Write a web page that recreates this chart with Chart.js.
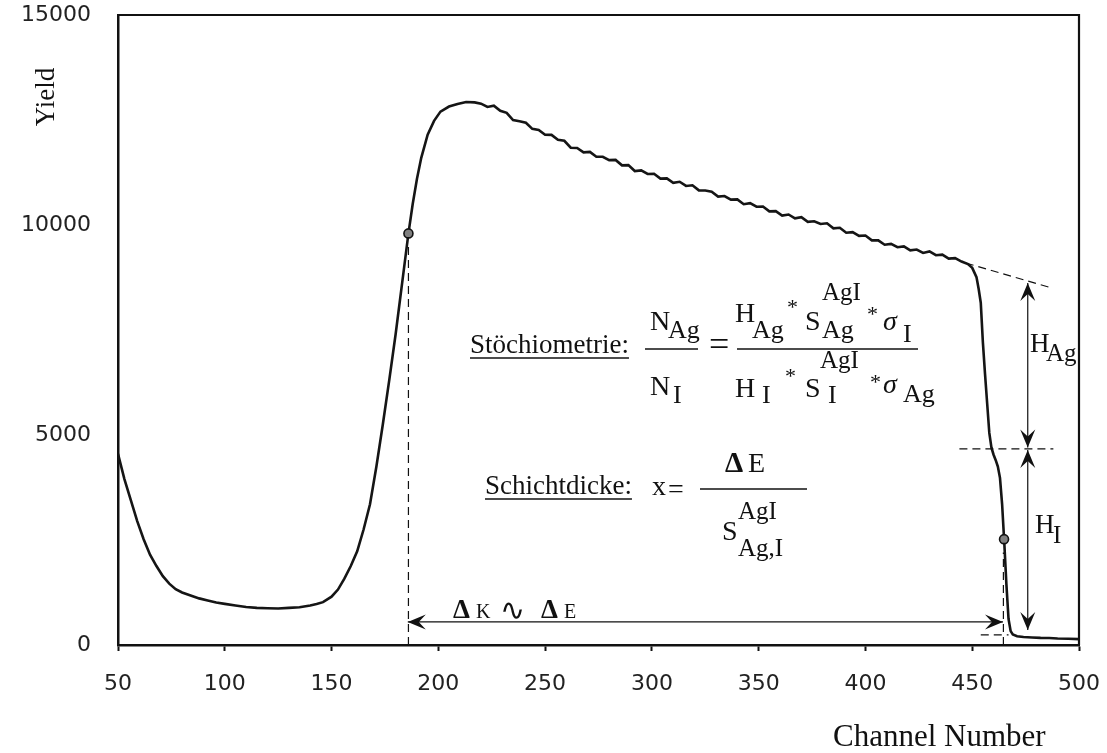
<!DOCTYPE html>
<html>
<head>
<meta charset="utf-8">
<script src="https://cdn.jsdelivr.net/npm/chart.js@4.4.0/dist/chart.umd.min.js"></script>
<style>
html,body{margin:0;padding:0;background:#fff;}
#c{display:block;}
</style>
</head>
<body>
<canvas id="c" width="1107" height="753" style="width:1107px;height:753px;"></canvas>
<script>
// ---- data ----
const channels = [
  50,53,56,59,62,65,68,71,74,77,80,84,88,92,96,100,105,110,115,120,125,130,135,140,143,146,150,153,156,159,162,165,168,171,174,177,180,183,186,188,190,192,195,198,201,205,209,213,217,
  220,223,226,229,232,235,238,241,244,247,250,253,256,259,262,265,268,271,274,277,280,283,286,289,292,295,298,
  301,304,307,310,313,316,319,322,325,328,331,334,337,340,343,346,349,352,355,358,361,364,367,370,373,376,379,
  382,385,388,391,394,397,400,403,406,409,412,415,418,421,424,427,430,433,436,439,442,445,448,
  450,452,453,454,455,456,457,458,459,460,461,462,463,464,465,466,467,468,469,471,474,478,482,486,490,495,500
];
const yieldValues = [
  4550,3950,3450,2950,2520,2150,1880,1640,1460,1330,1250,1180,1110,1060,1010,980,940,905,885,875,870,885,900,940,975,1020,1150,1320,1580,1880,2230,2750,3350,4250,5250,6300,7400,8600,9800,10500,11100,11600,12150,12480,12700,12820,12880,12930,12920,
  12890,12810,12840,12720,12670,12500,12470,12435,12290,12265,12150,12145,12030,12005,11840,11835,11730,11740,11625,11625,11545,11550,11420,11425,11285,11300,11215,
  11220,11105,11110,11005,11030,10930,10945,10825,10820,10790,10675,10690,10605,10610,10495,10520,10435,10440,10325,10330,10225,10250,10160,10185,10075,10090,10025,
  10040,9920,9935,9815,9830,9740,9750,9635,9635,9530,9550,9470,9490,9395,9415,9335,9370,9280,9295,9200,9210,9130,9070,
  8980,8760,8480,8150,7200,6450,5750,5050,4700,4530,4400,4250,3980,3350,2450,1450,620,330,250,210,190,180,170,165,155,150,140
];
const markerChannels = [186, 464.9];
const markerYields = [9800, 2520];
const xTickValues = [50,100,150,200,250,300,350,400,450,500];
const yTickValues = [0,5000,10000,15000];
// annotation geometry in data units [x1, y1, x2, y2]
const dashedSegments = [
  [186, 0, 186, 9480],
  [464.6, 0, 464.6, 2200],
  [447, 9095, 487.3, 8500],
  [444, 4670, 488, 4670],
  [454, 240, 467, 240]
];
const doubleArrows = [
  [185.7, 550, 464.4, 550],
  [476, 8620, 476, 4700],
  [476, 4640, 476, 360]
];

const SERIF = '"Liberation Serif","Times New Roman",serif';

function txt(ctx, s, x, y, size, style, fam) {
  ctx.font = (style || '') + ' ' + size + 'px ' + (fam || SERIF);
  ctx.fillText(s, x, y);
  return ctx.measureText(s).width;
}
function head(ctx, x, y, ang) {
  const L = 18, W = 7.5, N = 11;
  ctx.save();
  ctx.translate(x, y);
  ctx.rotate(ang);
  ctx.beginPath();
  ctx.moveTo(0, 0);
  ctx.lineTo(-L, -W);
  ctx.lineTo(-N, 0);
  ctx.lineTo(-L, W);
  ctx.closePath();
  ctx.fill();
  ctx.restore();
}
function hline(ctx, x1, x2, y, w) {
  ctx.lineWidth = w || 1.3;
  ctx.beginPath(); ctx.moveTo(x1, y); ctx.lineTo(x2, y); ctx.stroke();
}

const annot = {
  id: 'annot',
  afterDatasetsDraw(chart) {
    const ctx = chart.ctx, xs = chart.scales.x, ys = chart.scales.y, a = chart.chartArea;
    ctx.save();
    ctx.strokeStyle = '#111';
    ctx.fillStyle = '#111';
    // frame top/right
    ctx.lineWidth = 2.2;
    ctx.beginPath();
    ctx.moveTo(a.left, a.top); ctx.lineTo(a.right, a.top); ctx.lineTo(a.right, a.bottom);
    ctx.stroke();
    // dashed guides
    ctx.lineWidth = 1.2;
    ctx.setLineDash([8, 5]);
    dashedSegments.forEach(s => {
      ctx.beginPath();
      ctx.moveTo(xs.getPixelForValue(s[0]), ys.getPixelForValue(s[1]));
      ctx.lineTo(xs.getPixelForValue(s[2]), ys.getPixelForValue(s[3]));
      ctx.stroke();
    });
    ctx.setLineDash([]);
    // double arrows
    ctx.lineWidth = 1.2;
    doubleArrows.forEach(s => {
      const x1 = xs.getPixelForValue(s[0]), y1 = ys.getPixelForValue(s[1]);
      const x2 = xs.getPixelForValue(s[2]), y2 = ys.getPixelForValue(s[3]);
      ctx.beginPath(); ctx.moveTo(x1, y1); ctx.lineTo(x2, y2); ctx.stroke();
      const ang = Math.atan2(y2 - y1, x2 - x1);
      head(ctx, x2, y2, ang);
      head(ctx, x1, y1, ang + Math.PI);
    });
    // texts
    ctx.textBaseline = 'alphabetic';
    ctx.textAlign = 'left';
    // Stöchiometrie
    let w = txt(ctx, 'Stöchiometrie:', 470, 353, 27);
    hline(ctx, 470, 470 + w, 358, 1.4);
    txt(ctx, 'N', 650, 330, 28);
    txt(ctx, 'Ag', 668, 338, 26);
    hline(ctx, 645, 698, 349);
    txt(ctx, 'N', 650, 395, 28);
    txt(ctx, 'I', 673, 403, 26);
    txt(ctx, '=', 709, 356, 36);
    hline(ctx, 737, 918, 349);
    // numerator
    txt(ctx, 'H', 735, 322, 28);
    txt(ctx, 'Ag', 752, 338, 26);
    txt(ctx, '*', 787, 314, 22);
    txt(ctx, 'S', 805, 330, 28);
    txt(ctx, 'AgI', 822, 300, 25);
    txt(ctx, 'Ag', 822, 338, 26);
    txt(ctx, '*', 867, 321, 22);
    txt(ctx, 'σ', 883, 330, 28, 'italic');
    txt(ctx, 'I', 903, 342, 26);
    // denominator
    txt(ctx, 'H', 735, 397, 28);
    txt(ctx, 'I', 762, 403, 26);
    txt(ctx, '*', 785, 383, 22);
    txt(ctx, 'S', 805, 397, 28);
    txt(ctx, 'AgI', 820, 368, 25);
    txt(ctx, 'I', 828, 403, 26);
    txt(ctx, '*', 870, 389, 22);
    txt(ctx, 'σ', 883, 393, 28, 'italic');
    txt(ctx, 'Ag', 903, 402, 26);
    // Schichtdicke
    w = txt(ctx, 'Schichtdicke:', 485, 494, 27);
    hline(ctx, 485, 485 + w, 499, 1.4);
    txt(ctx, 'x', 652, 495, 28);
    txt(ctx, '=', 668, 498, 28);
    hline(ctx, 700, 807, 489);
    txt(ctx, 'Δ', 725, 472, 29, 'bold');
    txt(ctx, 'E', 748, 472, 28);
    txt(ctx, 'S', 722, 540, 28);
    txt(ctx, 'AgI', 738, 519, 25);
    txt(ctx, 'Ag,I', 738, 556, 25);
    // Delta K ~ Delta E
    txt(ctx, 'Δ', 453, 618, 27, 'bold');
    txt(ctx, 'K', 476, 618, 20);
    txt(ctx, '∿', 500, 620, 30, '', '"DejaVu Serif","DejaVu Sans",serif');
    txt(ctx, 'Δ', 541, 618, 27, 'bold');
    txt(ctx, 'E', 564, 618, 20);
    // H labels
    txt(ctx, 'H', 1030, 352, 27);
    txt(ctx, 'Ag', 1046, 361, 25);
    txt(ctx, 'H', 1035, 533, 27);
    txt(ctx, 'I', 1053, 543, 25);
    // axis titles
    txt(ctx, 'Channel Number', 833, 746, 31);
    ctx.save();
    ctx.translate(47, 97);
    ctx.rotate(-Math.PI / 2);
    ctx.textAlign = 'center';
    ctx.textBaseline = 'middle';
    txt(ctx, 'Yield', 0, 0, 27);
    ctx.restore();
    ctx.restore();
  }
};

const tickFont = {family: '"DejaVu Sans", sans-serif', size: 22};
new Chart(document.getElementById('c').getContext('2d'), {
  type: 'line',
  data: {
    datasets: [
      {
        data: channels.map((c, i) => ({x: c, y: yieldValues[i]})),
        borderColor: '#151515', borderWidth: 2.6, pointRadius: 0, tension: 0, fill: false, order: 2
      },
      {
        data: markerChannels.map((c, i) => ({x: c, y: markerYields[i]})),
        showLine: false, pointRadius: 4.5, pointBackgroundColor: '#808080',
        pointBorderColor: '#111', pointBorderWidth: 1.6, order: 1
      }
    ]
  },
  options: {
    responsive: false, animation: false, devicePixelRatio: 1,
    layout: {padding: {top: 15, right: 28, left: 0, bottom: 0}},
    plugins: {legend: {display: false}, tooltip: {enabled: false}},
    scales: {
      x: {
        type: 'linear', min: 50, max: 500,
        afterBuildTicks: s => { s.ticks = xTickValues.map(v => ({value: v})); },
        afterFit: s => { s.height = 108; s.paddingLeft = 0; s.paddingRight = 0; },
        grid: {drawOnChartArea: false, drawTicks: true, tickLength: 6, tickWidth: 2, tickColor: '#111'},
        border: {display: true, color: '#111', width: 2.5},
        ticks: {padding: 20, font: tickFont, color: '#222', maxRotation: 0, autoSkip: false,
                callback: v => String(v)}
      },
      y: {
        type: 'linear', min: 0, max: 15000,
        afterBuildTicks: s => { s.ticks = yTickValues.map(v => ({value: v})); },
        afterFit: s => { s.width = 118; s.paddingTop = 0; s.paddingBottom = 0; },
        grid: {drawOnChartArea: false, drawTicks: false},
        border: {display: true, color: '#111', width: 2.5},
        ticks: {padding: 27, font: tickFont, color: '#222', callback: v => String(v)}
      }
    }
  },
  plugins: [annot]
});
</script>
</body>
</html>
